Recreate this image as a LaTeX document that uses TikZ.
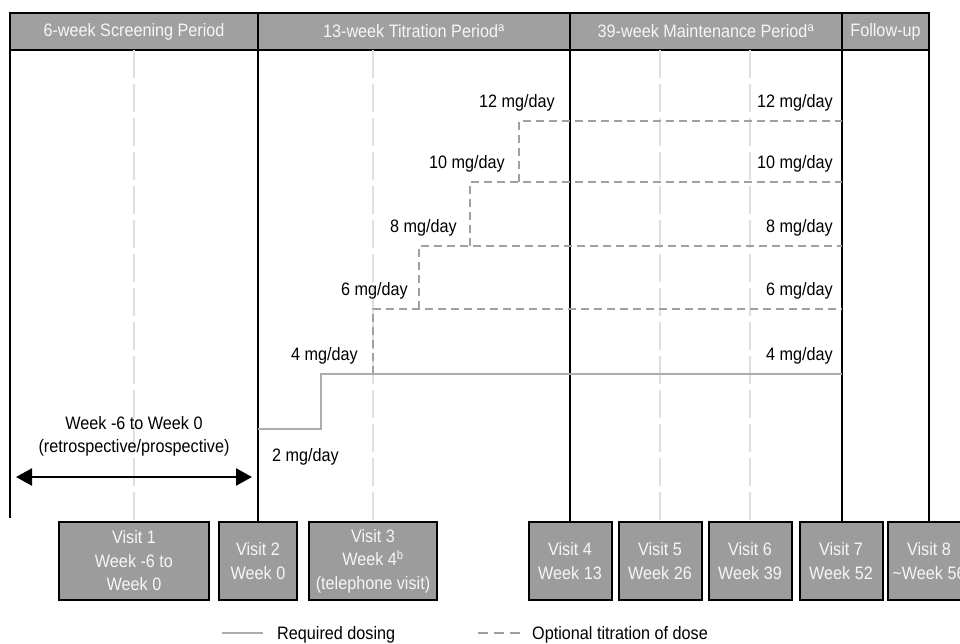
\documentclass[tikz,border=0pt]{standalone}
\usepackage{fontspec}
\setmainfont{Liberation Sans}[FakeStretch=0.9]
\usetikzlibrary{arrows.meta, positioning, calc}
\definecolor{headgray}{RGB}{160,160,160}
\definecolor{boxgray}{RGB}{156,156,156}
\definecolor{paletext}{RGB}{246,246,246}
\definecolor{guidegray}{RGB}{224,224,224}
\definecolor{reqgray}{RGB}{172,172,172}
\definecolor{optgray}{RGB}{160,160,160}
\tikzset{
  % Period header cells
  periodcell/.style={draw=black, line width=2.5pt, fill=headgray, text=paletext, minimum height=37pt, inner sep=0pt, outer sep=0pt, font=\fontsize{18}{22}\selectfont},
  % Visit boxes
  visitbox/.style={draw=black, line width=2pt, fill=boxgray, text=paletext, minimum height=78pt, inner sep=0pt, align=center, font=\fontsize{18}{23.5}\selectfont},
  % Plain labels
  plainlabel/.style={inner sep=0pt, font=\fontsize{18}{23.5}\selectfont},
  doselabel/.style={plainlabel, anchor=east},
  % Lines
  periodline/.style={line width=1.8pt, draw=black},
  guideline/.style={line width=2pt, draw=guidegray, dash pattern=on 28pt off 6pt},
  requiredline/.style={line width=2pt, draw=reqgray},
  optionalline/.style={line width=2pt, draw=optgray, dash pattern=on 8pt off 5pt},
  spanpointer/.style={{Triangle[length=16pt,width=17pt]}-{Triangle[length=16pt,width=17pt]}, line width=2.5pt, draw=black},
}

\begin{document}
\begin{tikzpicture}[x=1pt, y=-1pt]
  \useasboundingbox (0,0) rectangle (960,643);
  \clip (0,0) rectangle (960,643);

  % Period header
  \node[periodcell, minimum width=248pt] (screen) at (134,31.5) {6-week Screening Period};
  \node[periodcell, minimum width=312pt, right=0pt of screen] (titr) {13-week Titration Period\textsuperscript{a}};
  \node[periodcell, minimum width=272pt, right=0pt of titr] (maint) {39-week Maintenance Period\textsuperscript{a}};
  \node[periodcell, minimum width=87pt, right=0pt of maint] (follow) {Follow-up};

  % Visit boxes
  \node[visitbox, minimum width=150pt] (visit1) at (134,561) {Visit 1\\Week -6 to\\Week 0};
  \node[visitbox, minimum width=78pt] (visit2) at (258,561) {Visit 2\\Week 0};
  \node[visitbox, minimum width=128pt] (visit3) at (373,561) {Visit 3\\Week 4\textsuperscript{b}\\(telephone visit)};
  \node[visitbox, minimum width=83pt] (visit4) at (570,561) {Visit 4\\Week 13};
  \node[visitbox, minimum width=83pt] (visit5) at (660,561) {Visit 5\\Week 26};
  \node[visitbox, minimum width=83pt] (visit6) at (750,561) {Visit 6\\Week 39};
  \node[visitbox, minimum width=83pt] (visit7) at (841,561) {Visit 7\\Week 52};
  \node[visitbox, minimum width=83pt] (visit8) at (929,561) {Visit 8\\\textasciitilde Week 56};

  % Light guides
  \draw[guideline] (visit1.north |- screen.south) -- (visit1.north);
  \draw[guideline] (visit3.north |- screen.south) -- (visit3.north);
  \draw[guideline] (visit5.north |- screen.south) -- (visit5.north);
  \draw[guideline] (visit6.north |- screen.south) -- (visit6.north);

  % Period borders
  \coordinate (leftend) at (10,518);
  \draw[periodline] (screen.south west) -- (leftend);
  \draw[periodline] (titr.south west) -- (titr.south west |- visit2.north);
  \draw[periodline] (maint.south west) -- (maint.south west |- visit4.north);
  \draw[periodline] (follow.south west) -- (follow.south west |- visit7.north);
  \draw[periodline] (follow.south east) -- (follow.south east |- visit8.north);

  % Dosing steps
  \draw[optionalline] (373,374) -- (373,309) -- (842,309);
  \draw[optionalline] (419,309) -- (419,246) -- (842,246);
  \draw[optionalline] (470,246) -- (470,182) -- (842,182);
  \draw[optionalline] (519,182) -- (519,121) -- (842,121);
  \draw[requiredline] (258,429) -- (321,429) -- (321,374) -- (842,374);

  \node[plainlabel, anchor=west] (dose2) at (272,457) {2 mg/day};
  \node[doselabel] (dose4a) at (358,356) {4 mg/day};
  \node[doselabel] (dose6a) at (408,291) {6 mg/day};
  \node[doselabel] (dose8a) at (457,228) {8 mg/day};
  \node[doselabel] (dose10a) at (505,164) {10 mg/day};
  \node[doselabel] (dose12a) at (555,103) {12 mg/day};
  \node[doselabel] (dose4b) at (833,356) {4 mg/day};
  \node[doselabel] (dose6b) at (833,291) {6 mg/day};
  \node[doselabel] (dose8b) at (833,228) {8 mg/day};
  \node[doselabel] (dose10b) at (833,164) {10 mg/day};
  \node[doselabel] (dose12b) at (833,103) {12 mg/day};

  % Screening span
  \node[plainlabel, align=center] (spantext) at (134,436.5) {Week -6 to Week 0\\(retrospective/prospective)};
  \coordinate (spanL) at (16,477);
  \coordinate (spanR) at (252,477);
  \draw[spanpointer] (spanL) -- (spanR);

  % Legend
  \node[plainlabel, anchor=base west] (legreq) at (277,639) {Required dosing};
  \node[plainlabel, anchor=base west] (legopt) at (532,639) {Optional titration of dose};
  \draw[requiredline] ([xshift=-55pt,yshift=6pt]legreq.base west) -- ([xshift=-14pt,yshift=6pt]legreq.base west);
  \draw[optionalline, dash pattern=on 10pt off 6pt] ([xshift=-54pt,yshift=6pt]legopt.base west) -- ([xshift=-12pt,yshift=6pt]legopt.base west);

\end{tikzpicture}
\end{document}
